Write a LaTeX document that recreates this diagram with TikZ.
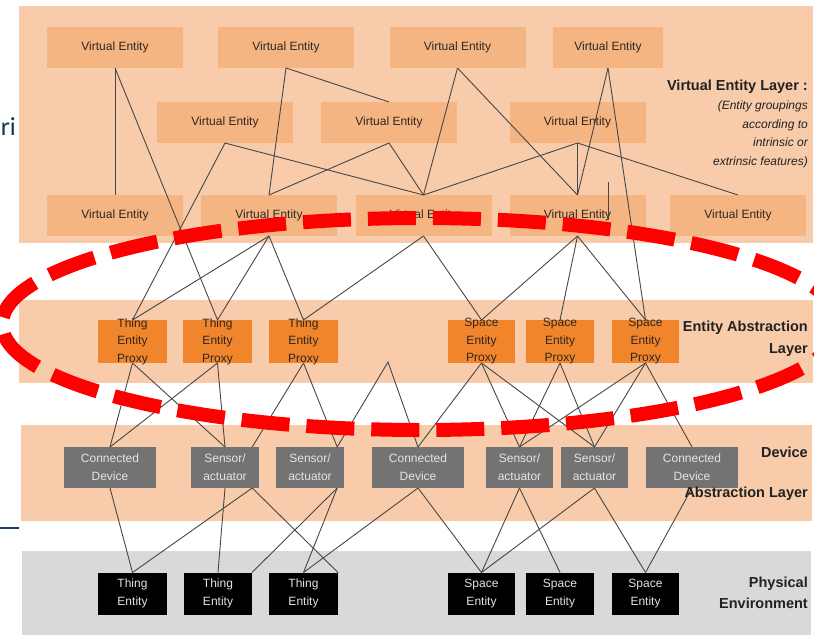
\documentclass[tikz,border=0pt]{standalone}
\usepackage{fontspec}
\setmainfont{Liberation Sans}
\newfontfamily\slidefont{Carlito}
\usetikzlibrary{calc}

\definecolor{panelpeach}{HTML}{F8CBAA}
\definecolor{veorange}{HTML}{F5B583}
\definecolor{proxyorange}{HTML}{F0852C}
\definecolor{devgray}{HTML}{737373}
\definecolor{physgray}{HTML}{D9D9D9}
\definecolor{linkgray}{HTML}{474747}
\definecolor{boxtext}{HTML}{2E2620}
\definecolor{devtext}{HTML}{E4E4E4}
\definecolor{labeltext}{HTML}{222222}
\definecolor{slideteal}{HTML}{0F3D4F}
\definecolor{slidenavy}{HTML}{1F3A70}

\begin{document}
\begin{tikzpicture}[x=1pt,y=-1pt,
  plainbox/.style={draw=none, inner sep=0pt, outer sep=0pt},
  vebox/.style={plainbox, fill=veorange, minimum width=136pt, minimum height=41pt,
    font=\fontsize{12}{14}\selectfont, text=boxtext},
  proxybox/.style={plainbox, fill=proxyorange, minimum width=69pt, minimum height=43pt},
  proxytext/.style={align=center, inner sep=0pt, font=\fontsize{12}{17.5}\selectfont, text=boxtext},
  devbox/.style={plainbox, fill=devgray, minimum height=41pt, align=center,
    font=\fontsize{12}{18}\selectfont, text=devtext},
  physbox/.style={plainbox, fill=black, minimum width=69pt, minimum height=42pt, align=center,
    font=\fontsize{12}{18}\selectfont, text=devtext},
  link/.style={draw=linkgray, line width=0.9pt},
  layerlabel/.style={inner sep=0pt, anchor=east, align=right, text=labeltext,
    font=\bfseries\fontsize{14.5}{22}\selectfont},
  layernote/.style={inner sep=0pt, anchor=east, align=right, text=labeltext,
    font=\itshape\fontsize{12}{18.5}\selectfont},
  focusring/.style={draw=red, line width=14pt, dash pattern=on 48pt off 17pt}
]
\useasboundingbox (0,0) rectangle (814,635);
\fill[white] (0,0) rectangle (814,635);

% layer bands
\fill[panelpeach] (19,6) rectangle (813,243);
\fill[panelpeach] (19,300) rectangle (813,383);
\fill[panelpeach] (21,425) rectangle (812,521);
\fill[physgray] (22,551) rectangle (811,635);

% virtual entity layer
\node[vebox] (ve1) at (115,47.5) {Virtual Entity};
\node[vebox] (ve2) at (286,47.5) {Virtual Entity};
\node[vebox] (ve3) at (457.5,47.5) {Virtual Entity};
\node[vebox, minimum width=110pt] (ve4) at (608,47.5) {Virtual Entity};
\node[vebox] (ve5) at (225,122.5) {Virtual Entity};
\node[vebox] (ve6) at (389,122.5) {Virtual Entity};
\node[vebox] (ve7) at (577.5,122.5) {Virtual Entity};
\node[vebox] (ve8) at (115,215.5) {Virtual Entity};
\node[vebox] (ve9) at (269,215.5) {Virtual Entity};
\node[vebox] (ve10) at (423.5,215.5) {Virtual Entity};
\node[vebox] (ve11) at (577.5,215.5) {Virtual Entity};
\node[vebox] (ve12) at (738,215.5) {Virtual Entity};

% entity abstraction layer
\node[proxybox, label={[proxytext]center:Thing\\Entity\\Proxy}] (tep1) at (132.5,341.5) {};
\node[proxybox, label={[proxytext]center:Thing\\Entity\\Proxy}] (tep2) at (217.5,341.5) {};
\node[proxybox, label={[proxytext]center:Thing\\Entity\\Proxy}] (tep3) at (303.5,341.5) {};
\node[proxybox, minimum width=67pt, label={[proxytext]center:Space\\Entity\\Proxy}] (sep1) at (481.5,341.5) {};
\node[proxybox, minimum width=68pt, label={[proxytext]center:Space\\Entity\\Proxy}] (sep2) at (560,341.5) {};
\node[proxybox, minimum width=67pt, label={[proxytext]center:Space\\Entity\\Proxy}] (sep3) at (645.5,341.5) {};

% device abstraction layer
\node[devbox, minimum width=92pt] (cd1) at (110,467.5) {Connected\\Device};
\node[devbox, minimum width=68pt] (sa1) at (225,467.5) {Sensor/\\actuator};
\node[devbox, minimum width=68pt] (sa2) at (310,467.5) {Sensor/\\actuator};
\node[devbox, minimum width=92pt] (cd2) at (418,467.5) {Connected\\Device};
\node[devbox, minimum width=67pt] (sa3) at (519.5,467.5) {Sensor/\\actuator};
\node[devbox, minimum width=67pt] (sa4) at (594.5,467.5) {Sensor/\\actuator};
\node[devbox, minimum width=92pt] (cd3) at (692,467.5) {Connected\\Device};

% physical environment
\node[physbox] (te1) at (132.5,593.5) {Thing\\Entity};
\node[physbox, minimum width=68pt] (te2) at (218,593.5) {Thing\\Entity};
\node[physbox] (te3) at (303.5,593.5) {Thing\\Entity};
\node[physbox, minimum width=67pt] (se1) at (481.5,593.5) {Space\\Entity};
\node[physbox, minimum width=68pt] (se2) at (560,593.5) {Space\\Entity};
\node[physbox, minimum width=67pt] (se3) at (645.5,593.5) {Space\\Entity};

% side attachment points on the sensor boxes
\coordinate (sa1ne) at ($(sa1.north)!0.8!(sa1.north east)$);
\coordinate (sa2ne) at ($(sa2.north)!0.8!(sa2.north east)$);
\coordinate (sa1se) at ($(sa1.south)!0.8!(sa1.south east)$);
\coordinate (sa2se) at ($(sa2.south)!0.8!(sa2.south east)$);
\coordinate (stubtop) at (608,182);
\coordinate (stubbot) at (608,220);
\coordinate (peak) at (388,362);

% links among virtual entities
\draw[link] (ve1.south) -- (ve8.north);
\draw[link] (ve1.south) -- (tep2.north);
\draw[link] (ve2.south) -- (ve9.north);
\draw[link] (ve2.south) -- (ve6.north);
\draw[link] (ve3.south) -- (ve10.north);
\draw[link] (ve3.south) -- (ve11.north);
\draw[link] (ve4.south) -- (ve11.north);
\draw[link] (ve4.south) -- (sep3.north);
\draw[link] (ve5.south) -- (ve10.north);
\draw[link] (ve5.south) -- (tep1.north);
\draw[link] (ve6.south) -- (ve9.north);
\draw[link] (ve6.south) -- (ve10.north);
\draw[link] (ve7.south) -- (ve10.north);
\draw[link] (ve7.south) -- (ve11.north);
\draw[link] (ve7.south) -- (ve12.north);
\draw[link] (stubtop) -- (stubbot);

% virtual entities to proxies
\draw[link] (ve9.south) -- (tep1.north);
\draw[link] (ve9.south) -- (tep2.north);
\draw[link] (ve9.south) -- (tep3.north);
\draw[link] (ve10.south) -- (tep3.north);
\draw[link] (ve10.south) -- (sep1.north);
\draw[link] (ve11.south) -- (sep1.north);
\draw[link] (ve11.south) -- (sep2.north);
\draw[link] (ve11.south) -- (sep3.north);

% proxies to devices
\draw[link] (tep1.south) -- (cd1.north);
\draw[link] (tep1.south) -- (sa1.north);
\draw[link] (tep2.south) -- (cd1.north);
\draw[link] (tep2.south) -- (sa1.north);
\draw[link] (tep3.south) -- (sa1ne);
\draw[link] (tep3.south) -- (sa2ne);
\draw[link] (sa2ne) -- (peak) -- (cd2.north);
\draw[link] (sep1.south) -- (cd2.north);
\draw[link] (sep1.south) -- (sa3.north);
\draw[link] (sep1.south) -- (sa4.north);
\draw[link] (sep2.south) -- (sa3.north);
\draw[link] (sep2.south) -- (sa4.north);
\draw[link] (sep3.south) -- (sa3.north);
\draw[link] (sep3.south) -- (sa4.north);
\draw[link] (sep3.south) -- (cd3.north);

% devices to physical entities
\draw[link] (cd1.south) -- (te1.north);
\draw[link] (sa1.south) -- (te2.north);
\draw[link] (sa1se) -- (te1.north);
\draw[link] (sa1se) -- (te3.north east);
\draw[link] (sa2se) -- (te2.north east);
\draw[link] (sa2se) -- (te3.north);
\draw[link] (cd2.south) -- (te3.north);
\draw[link] (cd2.south) -- (se1.north);
\draw[link] (sa3.south) -- (se1.north);
\draw[link] (sa3.south) -- (se2.north);
\draw[link] (sa4.south) -- (se1.north);
\draw[link] (sa4.south) -- (se3.north);
\draw[link] (cd3.south) -- (se3.north);

% layer captions
\node[layerlabel] (velayer) at (808,87) {Virtual Entity Layer :};
\node[layernote] (venote) at (808,134.5) {(Entity groupings\\according to\\intrinsic or\\extrinsic features)};
\node[layerlabel] (ealayer) at (808,339) {Entity Abstraction\\Layer};
\node[layerlabel] (dallayer) at (808,452) {Device};
\node[layerlabel] (dallayerb) at (808,494) {Abstraction Layer};
\node[layerlabel, font=\bfseries\fontsize{14.5}{21}\selectfont] (pelayer) at (808,592.5) {Physical\\Environment};

% slide remnants at the left edge
\node[anchor=base east, inner sep=0pt, text=slideteal, font=\slidefont\fontsize{26}{30}\selectfont] (slidetext) at (16,135) {ri};
\draw[slidenavy, line width=2pt] (0,528) -- (19,528);

% highlight ring round the entity abstraction layer
\begin{scope}
  \clip (0,0) rectangle (814,635);
  \draw[focusring] (421,324) ellipse [x radius=419pt, y radius=106pt];
\end{scope}
\end{tikzpicture}
\end{document}
